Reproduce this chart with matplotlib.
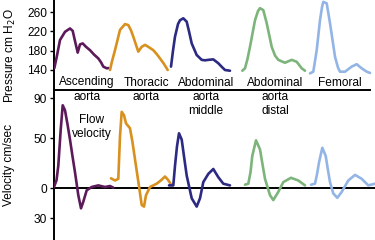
import numpy as np
import matplotlib
matplotlib.use('Agg')
import matplotlib.pyplot as plt

plt.rcParams['font.family'] = ['Liberation Sans', 'DejaVu Sans']

# time axis is in arbitrary units (same for both panels)
names = [['Ascending', 'aorta'], ['Thoracic', 'aorta'],
         ['Abdominal', 'aorta', 'middle'], ['Abdominal', 'aorta', 'distal'],
         ['Femoral']]
colors = ['#5c1a5a', '#d8911f', '#2c2a82', '#7db47b', '#93b5e6']
label_x = [87, 146, 206, 275, 340]
line_base = [85.5, 100.5, 113.5]

# pressure, cm H2O
p_t = [
    [54.3, 57, 60, 65, 70, 72.7, 75, 77.7, 80, 82.7, 86, 90, 94, 98.3, 101, 103.3, 106.7, 108.3],
    [110, 112, 115, 120, 125, 128.3, 131, 133.3, 136, 138.3, 141.7, 145, 148.3, 153.3, 156.7, 160, 163.5, 166.7, 167.7],
    [171, 173, 175, 178, 180, 183.3, 186.7, 189, 191.7, 196.7, 201.7, 205, 208.3, 213.3, 218.3, 222, 225, 230],
    [242.3, 245, 247.5, 250, 255, 258, 260, 263.3, 266.7, 271.7, 275, 278.3, 285, 291.7, 296.7, 301.7, 305],
    [310, 313.3, 316.7, 320, 322, 323.3, 326.7, 330, 335, 338, 340, 345, 351.7, 356.7, 361.7, 366.7, 370],
]
p_v = [
    [143.5, 170, 202, 219, 226, 221, 200, 176, 193, 195, 188, 181, 172, 164, 156, 147, 143.5, 144],
    [140, 158, 181, 223, 235, 233, 222, 209, 192, 178, 188, 192, 188, 181, 173, 164, 154, 143.5, 140],
    [147, 180, 209, 235, 243, 247, 240, 220, 195, 171, 161, 160, 161, 162, 154, 146, 140, 138.5],
    [138.5, 143.5, 163, 188, 243, 262, 268, 264, 237, 188, 170, 161, 155, 161, 157, 143.5, 138.5],
    [133, 136.5, 181, 243, 270, 281, 278, 237, 167.5, 145, 136.5, 136.5, 147, 152, 143.5, 136.5, 134],
]

# flow velocity, cm/sec
v_t = [
    [54, 56.5, 58.3, 60.7, 62.7, 65, 67.5, 70, 72.5, 75, 78.3, 81, 83.3, 86.7, 91.7, 98.3, 105, 110, 113.3],
    [111, 115, 118.3, 120, 121.7, 124, 126, 130, 132.5, 135, 139.3, 141.7, 144, 146, 150, 156.7, 161, 165, 168, 171.7],
    [169, 173.3, 175, 177, 179, 181.7, 184, 186.7, 191.7, 196.7, 200, 203.3, 208.3, 213.3, 218.3, 223.3, 230],
    [245, 248.3, 250.5, 252.3, 256, 260, 262.5, 265, 270, 273.3, 278.3, 283.3, 291, 298.3, 305],
    [311, 315, 317, 319, 322.3, 325.7, 328, 330, 333.3, 337.3, 341.7, 348.3, 355, 361.7, 368.3, 375],
]
v_v = [
    [1.3, 8, 22.5, 58.5, 83, 78, 64, 48.7, 32, 16, -6.9, -20, -13.4, -2, 1.3, 2.9, 1.3, 2.3, 0.7],
    [10, 7.8, 9.5, 52, 76.5, 73, 65, 60, 46, 29, 0, -16.7, -18.3, -6.9, 1.3, 4.6, 8, 11.8, 8.5, 2.9],
    [2.9, 2.9, 22.5, 42, 55, 48.7, 32, 12.7, -10, -18.3, -10, 6.2, 14.4, 19.3, 11.1, 4.6, 2.9],
    [3.6, 4.6, 16, 32.4, 48, 38.9, 24, 9.5, -6.9, -11.8, -3.6, 6.2, 10.5, 7.8, 2.9],
    [3.6, 4.6, 14, 25.8, 40.5, 32.4, 18, 6.2, -5.2, -9.5, -3.6, 7.8, 13.4, 9.5, 2.9, 4.6],
]

W, H = 375, 240
fig = plt.figure(figsize=(W / 100, H / 100), dpi=100)

ax_p = fig.add_axes([54 / W, 1 - 90 / H, 1 - 54 / W, 90 / H])
ax_v = fig.add_axes([54 / W, 0, 1 - 54 / W, 150 / H])

for ax in (ax_p, ax_v):
    ax.set_xlim(54, 375)
    ax.set_xticks([])
    ax.spines['top'].set_visible(False)
    ax.spines['right'].set_visible(False)
    ax.spines['left'].set_linewidth(1.4)
    ax.tick_params(axis='y', direction='out', length=3, width=1, labelsize=8.6, pad=2)
    ax.patch.set_alpha(0)

ax_v.spines['bottom'].set_visible(False)
ax_p.spines['bottom'].set_linewidth(1.4)
ax_p.spines['bottom'].set_bounds(54, 370)

ax_p.set_ylim(98.6, 284.9)
ax_p.set_yticks([140, 180, 220, 260])
ax_v.set_ylim(-51.7, 98.3)
ax_v.set_yticks([-30, 0, 50, 90])
ax_v.set_yticklabels(['30', '0', '50', '90'])
ax_v.axhline(0, color='black', lw=1.4, zorder=1)

for i in range(5):
    ax_p.plot(p_t[i], p_v[i], color=colors[i], lw=1.9,
              solid_joinstyle='round', solid_capstyle='round', zorder=3)
    ax_v.plot(v_t[i], v_v[i], color=colors[i], lw=1.9,
              solid_joinstyle='round', solid_capstyle='round', zorder=3)
    for j, word in enumerate(names[i]):
        fig.text(label_x[i] / W, 1 - line_base[j] / H, word, ha='center',
                 va='baseline', fontsize=8.6)

fig.text(92 / W, 1 - 123.5 / H, 'Flow', ha='center', va='baseline', fontsize=8.6)
fig.text(92 / W, 1 - 137 / H, 'velocity', ha='center', va='baseline', fontsize=8.6)

fig.text(10 / W, 1 - 56 / H, 'Pressure cm H$_2$O', rotation=90,
         ha='center', va='center', fontsize=8.6)
fig.text(9 / W, 1 - 165 / H, 'Velocity cm/sec', rotation=90,
         ha='center', va='center', fontsize=8.6)

fig.savefig('out.png', dpi=100)
